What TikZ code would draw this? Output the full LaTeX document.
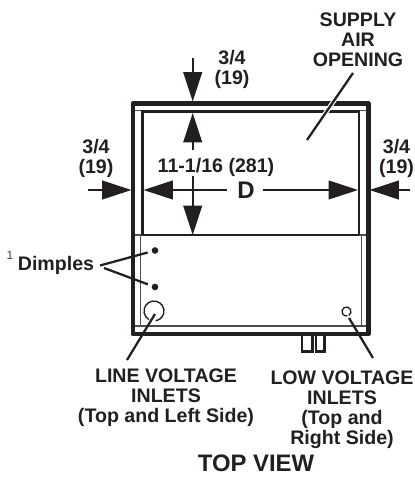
\documentclass[tikz,border=0pt]{standalone}
\usepackage{fontspec}
\setmainfont{Liberation Sans}
\usetikzlibrary{arrows.meta}
\definecolor{inkc}{HTML}{231F20}
\tikzset{lbl/.style={font=\bfseries\fontsize{14.7}{15}\selectfont,align=center,text=inkc,inner sep=0pt},
dim/.style={draw=inkc,line width=1.4pt,-{Triangle[length=22pt,width=14pt]}},
leader/.style={draw=inkc,line width=1.7pt},
wall/.style={draw=inkc,line width=3.4pt,line join=round},
liner/.style={draw=inkc,line width=2pt},
hair/.style={draw=inkc!80,line width=1pt},
dimple/.style={circle,fill=inkc,inner sep=0pt,minimum size=5pt}}
\begin{document}
\begin{tikzpicture}[x=0.75pt,y=-0.75pt]
\useasboundingbox (0,0) rectangle (414,477);
% cabinet
\draw[hair] (135,110.5) -- (366,110.5);
\draw[hair] (135,235) -- (366,235);
\draw[hair] (140.5,235) -- (140.5,326);
\draw[hair] (361.5,235) -- (361.5,326);
\draw[hair] (135,326) -- (366,326);
\draw[liner] (142.5,235) -- (142.5,111.5) -- (359,111.5) -- (359,235);
\draw[liner] (142.5,235) -- (359,235);
\draw[wall] (133,334) -- (133,103.5) -- (368.3,103.5) -- (368.3,334) -- cycle;
% tabs
\draw[liner,line width=1.6pt] (302,336) -- (302,351.5) -- (312.5,351.5) -- (312.5,336);
\draw[liner,line width=1.6pt] (316,336) -- (316,351.5) -- (324.5,351.5) -- (324.5,336);
% inlets
\draw[draw=inkc,line width=1pt] (154,311) ++(80:10) arc (80:-240:10);
\draw[draw=inkc,line width=1pt] (346.5,311.5) ++(60:4.5) arc (60:-280:4.5);
% dimples
\node[dimple] (dimpleA) at (155,250.5) {};
\node[dimple] (dimpleB) at (155,287) {};
% dimensions
\coordinate (topA) at (192.7,58);
\coordinate (topB) at (192.7,101.5);
\coordinate (midA) at (192.7,150);
\coordinate (midB) at (192.7,113);
\coordinate (lowA) at (192.7,176);
\coordinate (lowB) at (192.7,235);
\draw[dim] (topA) -- (topB);
\draw[dim] (midA) -- (midB);
\draw[dim] (lowA) -- (lowB);
\coordinate (leftA) at (88,190);
\coordinate (leftB) at (131.5,190);
\coordinate (rightA) at (410,190);
\coordinate (rightB) at (369.5,190);
\draw[dim] (leftA) -- (leftB);
\draw[dim] (rightA) -- (rightB);
% labels
\node[lbl] (supply) at (358,40) {SUPPLY\\AIR\\OPENING};
\node[lbl] (topdim) at (232,69) {3/4\\(19)};
\node[lbl] (leftdim) at (96,158.5) {3/4\\(19)};
\node[lbl] (rightdim) at (396.5,158.5) {3/4\\(19)};
\node[lbl] (width) at (216,167) {11-1/16 (281)};
\node[lbl,font=\bfseries\fontsize{18}{18}\selectfont] (depth) at (246,190) {D};
\coordinate (depthL) at (143.5,190);
\coordinate (depthR) at (358,190);
\draw[dim] (depth.west)+(-10,0) -- (depthL);
\draw[dim] (depth.east)+(8,0) -- (depthR);
\node[lbl] (dimples) at (56,265.5) {Dimples};
\node[font=\fontsize{9}{9}\selectfont,inner sep=0pt,text=inkc!85] (note) at (10,255) {1};
\node[lbl] (linevolt) at (166,397.5) {LINE VOLTAGE\\INLETS\\(Top and Left Side)};
\node[lbl] (lowvolt) at (342,410) {LOW VOLTAGE\\INLETS\\(Top and\\Right Side)};
\node[lbl,font=\bfseries\fontsize{17.9}{18}\selectfont] (view) at (256,463) {TOP VIEW};
% leaders
\coordinate (supplyA) at (353,73);
\coordinate (supplyB) at (307,140);
\coordinate (dimA) at (100,265.5);
\coordinate (dimB) at (104,268);
\coordinate (lineA) at (127,360);
\coordinate (lineB) at (155,314);
\coordinate (lowA) at (373,358);
\coordinate (lowB) at (349,318);
\draw[white,line width=3.5pt] (supplyA) -- (supplyB);
\draw[leader] (supplyA) -- (supplyB);
\draw[leader,shorten >=3pt] (dimA) -- (dimpleA);
\draw[leader,shorten >=3pt] (dimB) -- (dimpleB);
\draw[leader] (lineA) -- (lineB);
\draw[leader] (lowA) -- (lowB);
\end{tikzpicture}
\end{document}
